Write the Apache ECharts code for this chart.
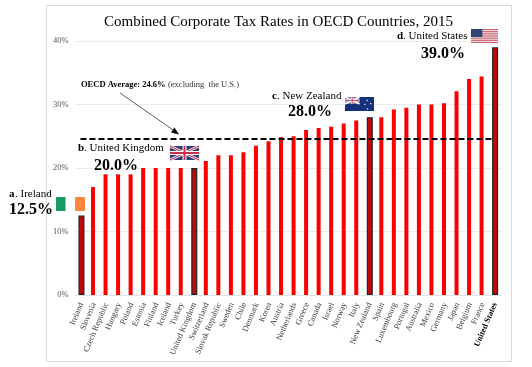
<!DOCTYPE html>
<html>
<head>
<meta charset="utf-8">
<style>html,body{margin:0;padding:0;background:#fff}#chart{width:532px;height:367px}</style>
<script src="https://cdn.jsdelivr.net/npm/echarts@6/dist/echarts.min.js"></script>
</head>
<body>
<div id="chart"></div>
<script>
const countries = ['Ireland','Slovenia','Czech Republic','Hungary','Poland','Estonia','Finland','Iceland','Turkey','United Kingdom','Switzerland','Slovak Republic','Sweden','Chile','Denmark','Korea','Austria','Netherlands','Greece','Canada','Israel','Norway','Italy','New Zealand','Spain','Luxembourg','Portugal','Australia','Mexico','Germany','Japan','Belgium','France','United States'];
const rates = [12.5,17,19,19,19,20,20,20,20,20,21.1,22,22,22.5,23.5,24.2,24.9,25,26,26.3,26.5,27,27.5,28,28,29.2,29.5,30,30,30.2,32.1,34,34.4,39];
const highlighted = ['Ireland','United Kingdom','New Zealand','United States'];
const oecdAverage = 24.6;

const serif = '"Liberation Serif","Times New Roman",serif';
const myChart = echarts.init(document.getElementById('chart'));

// text helper for the callouts
const txt = (x, y, text, size, weight, extra) => ({
  type: 'text', x, y, z: 20,
  style: Object.assign({ text, font: (weight || 'normal') + ' ' + size + 'px ' + serif, fill: '#000' }, extra)
});
const box = (x, y, w, h, fill) => ({ type: 'rect', z: 20, shape: { x, y, width: w, height: h }, style: { fill } });
const seg = (x1, y1, x2, y2, stroke, w) => ({ type: 'line', z: 21, shape: { x1, y1, x2, y2 }, style: { stroke, lineWidth: w } });

// union jack, w x h at x,y
const ukFlag = (x, y, w, h) => [
  box(x, y, w, h, '#2a3b78'),
  seg(x, y, x + w, y + h, '#f2dfe2', 3), seg(x + w, y, x, y + h, '#f2dfe2', 3),
  seg(x, y, x + w, y + h, '#c8324a', 1), seg(x + w, y, x, y + h, '#c8324a', 1),
  seg(x + w / 2, y, x + w / 2, y + h, '#fff', 4), seg(x, y + h / 2, x + w, y + h / 2, '#fff', 4),
  seg(x + w / 2, y, x + w / 2, y + h, '#c8324a', 2), seg(x, y + h / 2, x + w, y + h / 2, '#c8324a', 2)
];
const nzFlag = (x, y, w, h) => {
  const a = w * 0.5, b = h * 0.5;
  return [
    box(x, y, w, h, '#14327a'),
    box(x, y, a, b, '#7f7a9e'),
    seg(x, y, x + a, y + b, '#fff', 1.4), seg(x + a, y, x, y + b, '#fff', 1.4),
    seg(x + a / 2, y, x + a / 2, y + b, '#fff', 2), seg(x, y + b / 2, x + a, y + b / 2, '#fff', 2),
    seg(x + a / 2, y, x + a / 2, y + b, '#d0506a', 1), seg(x, y + b / 2, x + a, y + b / 2, '#d0506a', 1),
    box(x + w * 0.74, y + h * 0.2, 1.4, 1.4, '#ecc'), box(x + w * 0.66, y + h * 0.48, 1.4, 1.4, '#ecc'),
    box(x + w * 0.86, y + h * 0.42, 1.4, 1.4, '#ecc'), box(x + w * 0.75, y + h * 0.8, 1.4, 1.4, '#ecc')
  ];
};
const usFlag = (x, y, w, h) => {
  const out = [box(x, y, w, h, '#f4e4e6')];
  for (let i = 0; i < 7; i++) out.push(box(x, y + i * 2 * h / 13, w, h / 13, '#c45a6c'));
  out.push(Object.assign(box(x, y, w * 0.42, h * 0.57, '#2f4677'), { z: 22 }));
  return out;
};

const option = {
  animation: false,
  backgroundColor: '#fff',
  grid: { left: 75.2, right: 30.6, top: 41, bottom: 72 },
  xAxis: {
    type: 'category',
    data: countries.map(c => c === 'United States'
      ? { value: c, textStyle: { fontWeight: 'bold', color: '#000' } }
      : c),
    axisTick: { show: false },
    axisLine: { lineStyle: { color: '#e4e4e4' } },
    axisLabel: { interval: 0, rotate: 67, margin: 8, fontFamily: serif, fontSize: 8.3, color: '#404040' }
  },
  yAxis: {
    type: 'value', min: 0, max: 40, interval: 10,
    axisLine: { show: false },
    axisTick: { show: false },
    splitLine: { lineStyle: { color: '#ececec', width: 1 } },
    axisLabel: { fontFamily: serif, fontSize: 8.5, color: '#595959', margin: 6.5, formatter: '{value}%' }
  },
  series: [{
    type: 'bar',
    barWidth: 4,
    barGap: '-100%',
    itemStyle: { color: '#fa0000' },
    data: countries.map((c, i) => highlighted.includes(c) ? null : rates[i]),
    markLine: {
      silent: true,
      symbol: 'none',
      z: 10,
      label: { show: false },
      lineStyle: { color: '#000', type: [6, 3], width: 2 },
      data: [[{ xAxis: 'Ireland', yAxis: oecdAverage }, { xAxis: 'United States', yAxis: oecdAverage }]]
    }
  }, {
    type: 'bar',
    barWidth: 6,
    barGap: '-100%',
    itemStyle: { color: '#c00a0a', borderColor: '#222', borderWidth: 1.2 },
    data: countries.map((c, i) => highlighted.includes(c) ? rates[i] : null)
  }],
  graphic: [
    { type: 'rect', z: 1, shape: { x: 46.5, y: 5.5, width: 465, height: 356 }, style: { fill: 'none', stroke: '#d9d9d9', lineWidth: 1 } },
    txt(104, 15, 'Combined Corporate Tax Rates in OECD Countries, 2015', 15),
    // average note + arrow
    txt(81, 80, 'OECD Average: 24.6%', 8.5, 'bold'),
    txt(168, 80, '(excluding  the U.S.)', 8.5, 'normal', { fill: '#333' }),
    seg(120, 93, 176, 132, '#333', 0.8),
    { type: 'polygon', z: 21, shape: { points: [[179, 134.5], [171, 132.5], [174.5, 127.5]] }, style: { fill: '#000' } },
    // a. Ireland
    txt(9, 189, 'a', 11, 'bold'), txt(15, 189, '. Ireland', 11),
    txt(9, 202, '12.5%', 16, 'bold'),
    box(56, 197, 9.5, 14, '#169b62'), box(75, 197, 10, 14, '#ff883e'),
    // b. United Kingdom
    txt(78, 143, 'b', 11, 'bold'), txt(84, 143, '. United Kingdom', 11),
    txt(94, 157.5, '20.0%', 16, 'bold'),
    ...ukFlag(170, 146, 29, 14),
    // c. New Zealand
    txt(272, 90.5, 'c', 11, 'bold'), txt(277, 90.5, '. New Zealand', 11),
    txt(288, 104, '28.0%', 16, 'bold'),
    ...nzFlag(345, 97, 29, 14),
    // d. United States
    txt(397, 31, 'd', 11, 'bold'), txt(403, 31, '. United States', 11),
    txt(421, 45.5, '39.0%', 16, 'bold'),
    ...usFlag(471, 29, 27, 14)
  ]
};
myChart.setOption(option);
</script>
</body>
</html>
